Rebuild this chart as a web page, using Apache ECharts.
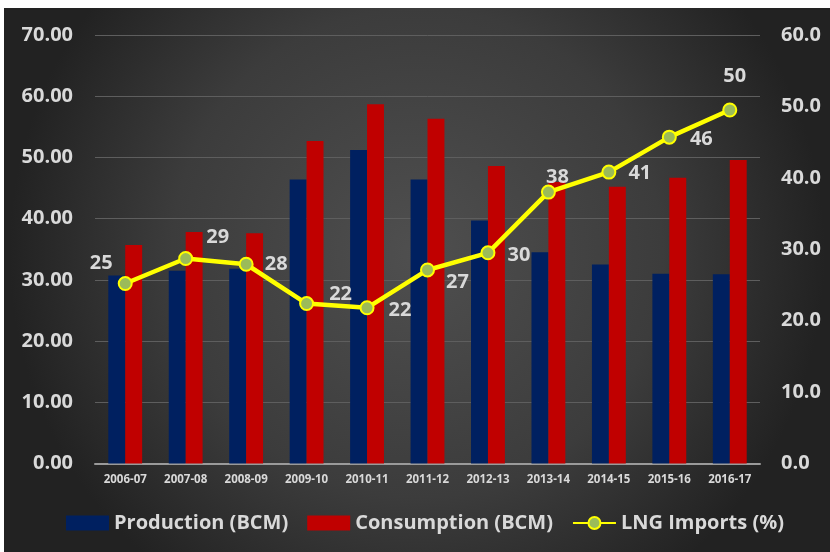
<!DOCTYPE html>
<html>
<head>
<meta charset="utf-8">
<script src="https://cdn.jsdelivr.net/npm/echarts@6/dist/echarts.min.js"></script>
<style>
html,body{margin:0;padding:0;background:#fff;}
#chart{width:830px;height:552px;}
</style>
</head>
<body>
<div id="chart"></div>
<script>
var categories = ['2006-07','2007-08','2008-09','2009-10','2010-11','2011-12','2012-13','2013-14','2014-15','2015-16','2016-17'];
var production = [30.7, 31.5, 31.8, 46.4, 51.2, 46.4, 39.7, 34.5, 32.5, 31.0, 30.9];
var consumption = [35.7, 37.8, 37.6, 52.7, 58.7, 56.3, 48.6, 46.0, 45.2, 46.7, 49.6];
var lngImports = [25.2, 28.7, 27.9, 22.4, 21.8, 27.1, 29.5, 38.0, 40.8, 45.7, 49.5];
var leftTicks = {min: 0, max: 70, interval: 10};
var rightTicks = {min: 0, max: 60, interval: 10};
var labelOffsets = [[-24,-20],[32,-21],[30,0],[34,-9],[33,2],[30,12],[31,2],[9,-15],[31,1],[32,2],[5,-34]];

var FONT = '"Open Sans", "Liberation Sans", sans-serif';
var TXT = '#d9d9d9';

var chart = echarts.init(document.getElementById('chart'), null, {renderer: 'canvas'});
var option = {
  animation: false,
  backgroundColor: '#ffffff',
  graphic: [{
    type: 'rect', z: -100, silent: true,
    shape: {x: 4, y: 8, width: 826, height: 544},
    style: {
      fill: new echarts.graphic.RadialGradient(0.5, 0.45, 0.75, [
        {offset: 0, color: '#4f4f4f'},
        {offset: 0.6, color: '#3c3c3c'},
        {offset: 1, color: '#222222'}
      ])
    }
  }],
  grid: {left: 95, right: 70, top: 35, bottom: 88.5},
  legend: {
    bottom: 14, left: 61,
    itemWidth: 43, itemHeight: 15, itemGap: 19,
    textStyle: {color: TXT, fontSize: 20, fontWeight: 'bold', fontFamily: FONT},
    data: [
      {name: 'Production (BCM)', icon: 'rect'},
      {name: 'Consumption (BCM)', icon: 'rect'},
      {name: 'LNG Imports (%)'}
    ]
  },
  xAxis: {
    type: 'category', data: categories,
    axisLine: {show: true, lineStyle: {color: '#9a9a9a', width: 2}},
    axisTick: {show: false},
    axisLabel: {color: TXT, fontSize: 11.5, fontWeight: 'bold', fontFamily: FONT, margin: 10, interval: 0}
  },
  yAxis: [{
    type: 'value', min: leftTicks.min, max: leftTicks.max, interval: leftTicks.interval,
    axisLine: {show: false}, axisTick: {show: false},
    axisLabel: {color: TXT, fontSize: 20, fontWeight: 'bold', fontFamily: FONT, margin: 22,
      formatter: function (v) { return v.toFixed(2); }},
    splitLine: {lineStyle: {color: '#5e5e5e', width: 1}}
  }, {
    type: 'value', min: rightTicks.min, max: rightTicks.max, interval: rightTicks.interval,
    axisLine: {show: false}, axisTick: {show: false},
    axisLabel: {color: TXT, fontSize: 20, fontWeight: 'bold', fontFamily: FONT, margin: 21,
      formatter: function (v) { return v.toFixed(1); }},
    splitLine: {show: false}
  }],
  series: [{
    name: 'Production (BCM)', type: 'bar', data: production,
    itemStyle: {color: '#002060'},
    barGap: '0%', barCategoryGap: '44%'
  }, {
    name: 'Consumption (BCM)', type: 'bar', data: consumption,
    itemStyle: {color: '#c00000'}
  }, {
    name: 'LNG Imports (%)', type: 'line', yAxisIndex: 1, z: 5,
    data: lngImports.map(function (v, i) {
      return {value: v, label: {offset: labelOffsets[i]}};
    }),
    lineStyle: {color: '#ffff00', width: 4.5},
    symbol: 'circle', symbolSize: 13,
    itemStyle: {color: '#9bbb59', borderColor: '#ffff00', borderWidth: 2},
    label: {
      show: true, position: 'inside', color: TXT, fontSize: 20, fontWeight: 'bold', fontFamily: FONT,
      formatter: function (p) { return Math.round(p.value); }
    }
  }]
};
chart.setOption(option);
</script>
</body>
</html>
